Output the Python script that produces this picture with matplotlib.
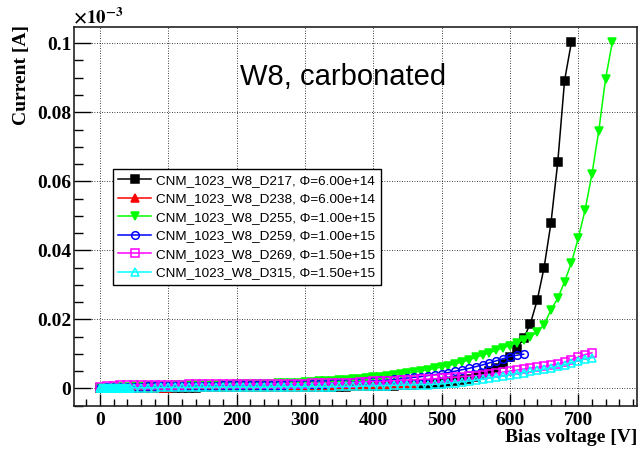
import matplotlib.pyplot as plt
from matplotlib.ticker import MultipleLocator, FuncFormatter

# Leakage current vs bias voltage, W8 carbonated sensors (current in units of 1e-3 A)
volts_d217 = [0, 10, 20, 30, 40, 50, 60, 70, 80, 90, 100,
              110, 120, 130, 140, 150, 160, 170, 180, 190, 200,
              210, 220, 230, 240, 250, 260, 270, 280, 290, 300,
              310, 320, 330, 340, 350, 360, 370, 380, 390, 400,
              410, 420, 430, 440, 450, 460, 470, 480, 490, 500,
              510, 520, 530, 540, 550, 560, 570, 580, 590, 600,
              610, 620, 630, 640, 650, 660, 670, 680, 690]
curr_d217 = [0.0000, 0.0001, 0.0001, 0.0001, 0.0001, 0.0001, 0.0001, 0.0001, 0.0001, 0.0002, 0.0002,
             0.0002, 0.0002, 0.0002, 0.0002, 0.0003, 0.0003, 0.0003, 0.0003, 0.0003, 0.0003,
             0.0003, 0.0003, 0.0003, 0.0003, 0.0003, 0.0004, 0.0004, 0.0004, 0.0004, 0.0004,
             0.0004, 0.0004, 0.0005, 0.0005, 0.0005, 0.0005, 0.0006, 0.0006, 0.0006, 0.0007,
             0.0007, 0.0008, 0.0008, 0.0009, 0.0010, 0.0011, 0.0012, 0.0013, 0.0014, 0.0016,
             0.0018, 0.0021, 0.0024, 0.0028, 0.0034, 0.0041, 0.0050, 0.0060, 0.0070, 0.0090,
             0.0115, 0.0145, 0.0188, 0.0256, 0.0350, 0.0478, 0.0655, 0.0892, 0.1003]

volts_d238 = [0, 10, 20, 30, 40, 50, 60, 70, 80, 90, 100,
              110, 120, 130, 140, 150, 160, 170, 180, 190, 200,
              210, 220, 230, 240, 250, 260, 270, 280, 290, 300,
              310, 320, 330, 340, 350, 360, 370, 380, 390, 400,
              410, 420, 430, 440, 450, 460]
curr_d238 = [0.0000, 0.0002, 0.0002, 0.0002, 0.0002, 0.0002, 0.0002, 0.0002, 0.0002, 0.0002, 0.0002,
             0.0003, 0.0003, 0.0003, 0.0003, 0.0003, 0.0003, 0.0003, 0.0003, 0.0003, 0.0003,
             0.0004, 0.0004, 0.0004, 0.0004, 0.0004, 0.0004, 0.0004, 0.0004, 0.0004, 0.0004,
             0.0005, 0.0005, 0.0006, 0.0006, 0.0006, 0.0007, 0.0007, 0.0008, 0.0008, 0.0009,
             0.0009, 0.0010, 0.0011, 0.0012, 0.0013, 0.0014]

volts_d255 = [0, 10, 20, 30, 40, 50, 60, 70, 80, 90, 100,
              110, 120, 130, 140, 150, 160, 170, 180, 190, 200,
              210, 220, 230, 240, 250, 260, 270, 280, 290, 300,
              310, 320, 330, 340, 350, 360, 370, 380, 390, 400,
              410, 420, 430, 440, 450, 460, 470, 480, 490, 500,
              510, 520, 530, 540, 550, 560, 570, 580, 590, 600,
              610, 620, 630, 640, 650, 660, 670, 680, 690, 700,
              710, 720, 730, 740, 750]
curr_d255 = [0.0000, 0.0002, 0.0003, 0.0004, 0.0005, 0.0006, 0.0006, 0.0007, 0.0007, 0.0008, 0.0008,
             0.0009, 0.0009, 0.0009, 0.0010, 0.0010, 0.0010, 0.0011, 0.0011, 0.0011, 0.0012,
             0.0012, 0.0013, 0.0013, 0.0014, 0.0014, 0.0015, 0.0015, 0.0016, 0.0017, 0.0018,
             0.0019, 0.0020, 0.0021, 0.0022, 0.0024, 0.0025, 0.0027, 0.0028, 0.0030, 0.0032,
             0.0034, 0.0036, 0.0038, 0.0041, 0.0044, 0.0047, 0.0050, 0.0054, 0.0058, 0.0062,
             0.0066, 0.0071, 0.0076, 0.0082, 0.0090, 0.0096, 0.0103, 0.0110, 0.0117, 0.0124,
             0.0132, 0.0141, 0.0150, 0.0163, 0.0185, 0.0227, 0.0261, 0.0309, 0.0364, 0.0435,
             0.0517, 0.0620, 0.0746, 0.0897, 0.1004]

volts_d259 = [0, 10, 20, 30, 40, 50, 60, 70, 80, 90, 100,
              110, 120, 130, 140, 150, 160, 170, 180, 190, 200,
              210, 220, 230, 240, 250, 260, 270, 280, 290, 300,
              310, 320, 330, 340, 350, 360, 370, 380, 390, 400,
              410, 420, 430, 440, 450, 460, 470, 480, 490, 500,
              510, 520, 530, 540, 550, 560, 570, 580, 590, 600,
              610, 620]
curr_d259 = [0.0000, 0.0003, 0.0004, 0.0004, 0.0005, 0.0005, 0.0005, 0.0006, 0.0006, 0.0006, 0.0007,
             0.0007, 0.0007, 0.0007, 0.0008, 0.0008, 0.0008, 0.0008, 0.0009, 0.0009, 0.0009,
             0.0009, 0.0010, 0.0010, 0.0010, 0.0011, 0.0011, 0.0011, 0.0012, 0.0012, 0.0013,
             0.0013, 0.0014, 0.0014, 0.0015, 0.0016, 0.0017, 0.0018, 0.0019, 0.0020, 0.0022,
             0.0023, 0.0024, 0.0026, 0.0028, 0.0030, 0.0032, 0.0034, 0.0037, 0.0040, 0.0043,
             0.0046, 0.0050, 0.0054, 0.0058, 0.0063, 0.0068, 0.0074, 0.0080, 0.0086, 0.0092,
             0.0096, 0.0099]

volts_d269 = [0, 10, 20, 30, 40, 50, 60, 70, 80, 90, 100,
              110, 120, 130, 140, 150, 160, 170, 180, 190, 200,
              210, 220, 230, 240, 250, 260, 270, 280, 290, 300,
              310, 320, 330, 340, 350, 360, 370, 380, 390, 400,
              410, 420, 430, 440, 450, 460, 470, 480, 490, 500,
              510, 520, 530, 540, 550, 560, 570, 580, 590, 600,
              610, 620, 630, 640, 650, 660, 670, 680, 690, 700,
              710, 720]
curr_d269 = [0.0003, 0.0006, 0.0008, 0.0009, 0.0009, 0.0010, 0.0010, 0.0010, 0.0011, 0.0011, 0.0011,
             0.0011, 0.0011, 0.0012, 0.0012, 0.0012, 0.0012, 0.0012, 0.0012, 0.0012, 0.0012,
             0.0013, 0.0013, 0.0013, 0.0013, 0.0013, 0.0013, 0.0014, 0.0014, 0.0014, 0.0014,
             0.0015, 0.0015, 0.0015, 0.0016, 0.0016, 0.0017, 0.0017, 0.0018, 0.0019, 0.0020,
             0.0020, 0.0021, 0.0022, 0.0023, 0.0024, 0.0025, 0.0026, 0.0027, 0.0028, 0.0030,
             0.0031, 0.0032, 0.0034, 0.0035, 0.0037, 0.0039, 0.0041, 0.0044, 0.0047, 0.0050,
             0.0053, 0.0056, 0.0059, 0.0061, 0.0064, 0.0067, 0.0071, 0.0076, 0.0083, 0.0091,
             0.0098, 0.0103]

volts_d315 = [0, 2, 4, 6, 8, 10, 12, 14, 16, 18, 20, 22, 24, 26, 28, 30, 32, 34, 36, 38, 40, 42, 44,
              50, 60, 70, 80, 90, 100,
              110, 120, 130, 140, 150, 160, 170, 180, 190, 200,
              210, 220, 230, 240, 250, 260, 270, 280, 290, 300,
              310, 320, 330, 340, 350, 360, 370, 380, 390, 400,
              410, 420, 430, 440, 450, 460, 470, 480, 490, 500,
              510, 520, 530, 540, 550, 560, 570, 580, 590, 600,
              610, 620, 630, 640, 650, 660, 670, 680, 690, 700,
              710, 720]
curr_d315 = [0.0000, 0.0000, 0.0000, 0.0001, 0.0001, 0.0001, 0.0001, 0.0001, 0.0001, 0.0001, 0.0001, 0.0001,
             0.0001, 0.0001, 0.0001, 0.0001, 0.0001, 0.0001, 0.0001, 0.0001, 0.0001, 0.0001, 0.0001,
             0.0002, 0.0002, 0.0002, 0.0002, 0.0003, 0.0003,
             0.0003, 0.0003, 0.0003, 0.0003, 0.0003, 0.0004, 0.0004, 0.0004, 0.0004, 0.0004,
             0.0004, 0.0004, 0.0004, 0.0004, 0.0004, 0.0005, 0.0005, 0.0005, 0.0005, 0.0005,
             0.0005, 0.0005, 0.0005, 0.0005, 0.0006, 0.0006, 0.0006, 0.0006, 0.0007, 0.0007,
             0.0008, 0.0008, 0.0009, 0.0009, 0.0010, 0.0010, 0.0011, 0.0011, 0.0012, 0.0013,
             0.0015, 0.0017, 0.0019, 0.0021, 0.0024, 0.0027, 0.0030, 0.0033, 0.0036, 0.0040,
             0.0043, 0.0046, 0.0049, 0.0052, 0.0056, 0.0060, 0.0064, 0.0068, 0.0074, 0.0080,
             0.0086, 0.0089]

labels = ['CNM_1023_W8_D217, Φ=6.00e+14',
          'CNM_1023_W8_D238, Φ=6.00e+14',
          'CNM_1023_W8_D255, Φ=1.00e+15',
          'CNM_1023_W8_D259, Φ=1.00e+15',
          'CNM_1023_W8_D269, Φ=1.50e+15',
          'CNM_1023_W8_D315, Φ=1.50e+15']

plt.rcParams['font.family'] = 'Liberation Serif'
plt.rcParams['font.weight'] = 'bold'
plt.rcParams['mathtext.fontset'] = 'stix'

fig = plt.figure(figsize=(6.39, 4.53), dpi=100)
ax = fig.add_axes([74 / 639, 1 - 406 / 453, 563 / 639, 379 / 453])

# (x, y, colour, marker, filled)
styles = [
    (volts_d217, curr_d217, 'black', 's', True),
    (volts_d238, curr_d238, '#ff0000', '^', True),
    (volts_d255, curr_d255, '#00ff00', 'v', True),
    (volts_d259, curr_d259, '#0000ff', 'o', False),
    (volts_d269, curr_d269, '#ff00ff', 's', False),
    (volts_d315, curr_d315, '#00ffff', '^', False),
]
for (x, y, col, mk, filled), lab in zip(styles, labels):
    ax.plot(x, y, color=col, lw=1.1, marker=mk, ms=5.5,
            mfc=col if filled else 'none', mec=col, mew=1.1, label=lab)

ax.set_xlim(-38, 786)
ax.set_ylim(-0.0051, 0.1047)

ax.xaxis.set_major_locator(MultipleLocator(100))
ax.xaxis.set_minor_locator(MultipleLocator(20))
ax.yaxis.set_major_locator(MultipleLocator(0.02))
ax.yaxis.set_minor_locator(MultipleLocator(0.005))
ax.yaxis.set_major_formatter(FuncFormatter(lambda v, p: '%g' % round(v, 4)))
ax.xaxis.set_major_formatter(FuncFormatter(lambda v, p: '%d' % round(v)))

ax.tick_params(which='both', direction='in', top=False, right=False, width=1.0, labelsize=14)
ax.tick_params(axis='x', which='major', length=8.6, pad=4)
ax.tick_params(axis='x', which='minor', length=4.8)
ax.tick_params(axis='y', which='major', length=12.5, pad=2)
ax.tick_params(axis='y', which='minor', length=6.3)

ax.grid(True, which='major', color='black', linestyle=(0, (1, 2)), linewidth=0.6)
for sp in ax.spines.values():
    sp.set_linewidth(1.2)
    sp.set_color('#222222')

leg = ax.legend(loc='upper left', bbox_to_anchor=(0.0693, 0.625), borderaxespad=0,
                prop={'family': 'Liberation Sans', 'size': 9.7, 'weight': 'normal'},
                fancybox=False, edgecolor='black', framealpha=1,
                handlelength=2.4, handletextpad=0.4, labelspacing=0.45, borderpad=0.4)
leg.get_frame().set_linewidth(1.0)

ax.text(0.295, 0.847, 'W8, carbonated', transform=ax.transAxes, fontsize=21,
        family='Liberation Sans', weight='normal', va='baseline')

fig.text(22 / 639, 1 - 25 / 453, 'Current [A]', rotation=90, ha='center', va='top', fontsize=14)
fig.text(637 / 639, 1 - 438 / 453, 'Bias voltage [V]', ha='right', va='center', fontsize=14)
fig.text(73 / 639, 1 - 23 / 453, r'$\mathrm{\times10^{-3}}$', ha='left', va='baseline', fontsize=13.5)

fig.savefig('out.png', dpi=100)
